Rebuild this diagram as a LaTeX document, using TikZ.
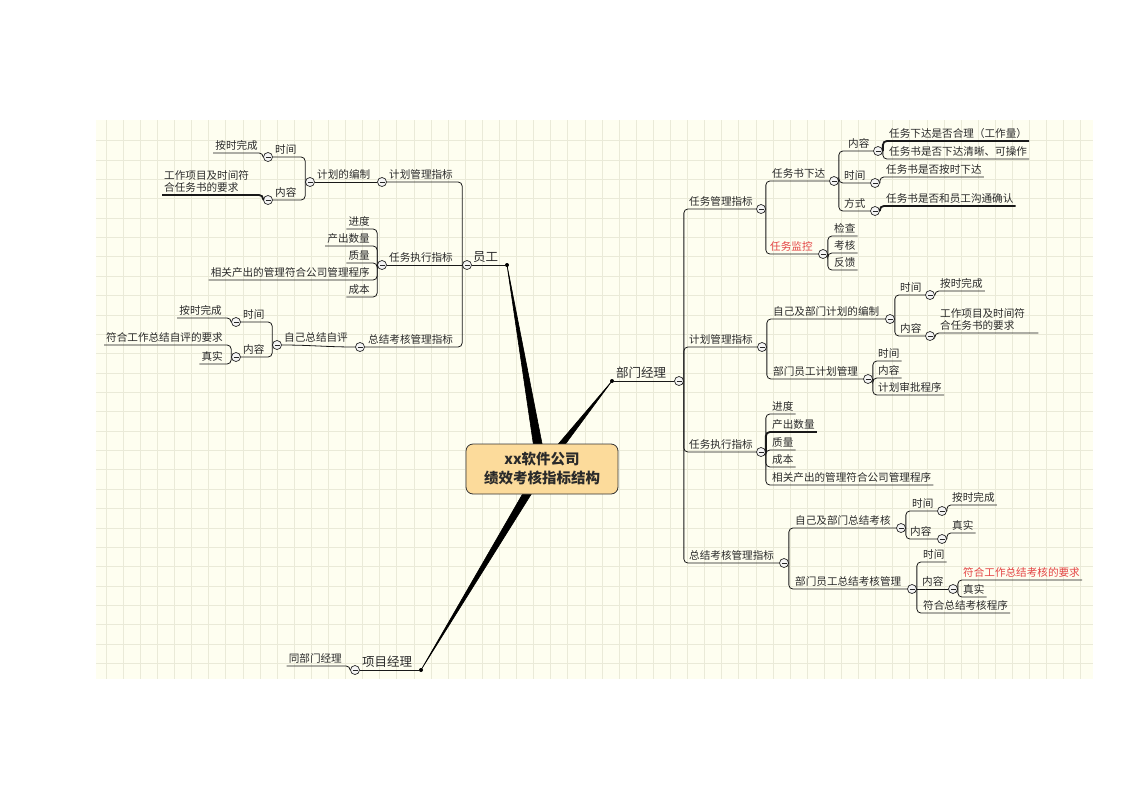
\documentclass[tikz,border=0pt]{standalone}
\usepackage{fontspec}
\setmainfont{Noto Sans CJK SC}
\usetikzlibrary{positioning}
\definecolor{PaperYellow}{HTML}{FEFEF0}
\definecolor{GridLine}{HTML}{EAEAD8}
\definecolor{HubFill}{HTML}{FCDB9B}
\definecolor{InkGray}{HTML}{2A2A2A}
\definecolor{AlertRed}{HTML}{E44444}
\tikzset{font=\fontsize{10.6pt}{12.6pt}\selectfont}
\tikzset{
  Link/.style={draw=black!90, line width=0.8pt, rounded corners=4pt},
  Heavy/.style={line width=1.8pt},
  Topic/.style={anchor=south west, inner xsep=1pt, inner ysep=2pt, text=InkGray},
  LeafR/.style={anchor=south west, inner xsep=2pt, inner ysep=2pt, text=InkGray},
  LeafL/.style={anchor=south east, inner xsep=2pt, inner ysep=2pt, text=InkGray},
  MainTopic/.style={Topic, font=\fontsize{12.5pt}{14pt}\selectfont},
  FoldMark/.style={circle, draw=black!85, line width=0.7pt, fill=black!4, minimum size=9pt, inner sep=0pt,
    path picture={\draw[line width=0.8pt] ([xshift=2pt]path picture bounding box.west) -- ([xshift=-2pt]path picture bounding box.east);}},
  Knot/.style={circle, fill=black, minimum size=4pt, inner sep=0pt},
  Trunk/.style={fill=black, draw=black, line width=0.6pt, line join=round},
  HubBox/.style={rectangle, rounded corners=7pt, draw=black!80, line width=0.8pt, fill=HubFill,
    minimum width=152pt, minimum height=50pt, align=center, text=InkGray,
    font=\fontsize{14.5pt}{19pt}\selectfont\bfseries}
}

\begin{document}
\begin{tikzpicture}[x=1pt,y=-1pt]
  \useasboundingbox (0,0) rectangle (1122,793);
  \fill[PaperYellow] (96,120) rectangle (1093,679);
  \foreach \k in {0,...,57}
  \draw[GridLine, line width=0.6pt] ({106+17.1*\k},120) -- ({106+17.1*\k},679);
  \foreach \k in {0,...,27}
  \draw[GridLine, line width=0.6pt] (96,{140.5+19.37*\k}) -- (1093,{140.5+19.37*\k});

  \coordinate (hubc) at (542,469);
  \node[Knot] (emp-dot) at (507,265) {};
  \node[Knot] (mgr-dot) at (612,381) {};
  \node[Knot] (pm-dot) at (421,670) {};
  \foreach \b in {emp,mgr,pm}
  \fill[Trunk] (\b-dot.center) -- ([xshift=-5pt]hubc) -- ([xshift=5pt]hubc) -- cycle;
  \node[HubBox] (hub) at (hubc) {xx软件公司\\绩效考核指标结构};

  % 员工
  \node[FoldMark] (emp-c) at (467,265) {};
  \node[MainTopic] (emp) at (472,265) {员工};
  \draw[Link] (emp-dot) -- (emp-c);

  \node[FoldMark] (plan-c) at (382,182) {};
  \node[Topic] (plan) at (388,182) {计划管理指标};
  \draw[Link] (emp-c.west) |- (plan-c.east);
  \node[FoldMark] (pedit-c) at (310,182) {};
  \node[Topic] (pedit) at (316,182) {计划的编制};
  \draw[Link] (plan-c.west) -- (pedit-c.east);
  \node[FoldMark] (ptime-c) at (268,157) {};
  \node[Topic] (ptime) at (274,157) {时间};
  \draw[Link] (pedit-c.west) |- (ptime-c.east);
  \node[LeafL] (ptime-a) at (260,153) {按时完成};
  \draw[Link] (ptime-c.west) |- (ptime-a.south west);
  \node[FoldMark] (pcont-c) at (268,200) {};
  \node[Topic] (pcont) at (274,200) {内容};
  \draw[Link] (pedit-c.west) |- (pcont-c.east);
  \node[LeafR, align=left, text width=90pt] (pcont-a) at (162,195) {工作项目及时间符\\合任务书的要求};
  \draw[Link, Heavy] (pcont-c.west) |- (pcont-a.south west);

  \node[FoldMark] (exec-c) at (382,265) {};
  \node[Topic] (exec) at (388,265) {任务执行指标};
  \draw[Link] (emp-c.west) -- (exec-c.east);
  \foreach \n/\y/\t in {1/229/进度,2/246/产出数量,3/263/质量,4/280/相关产出的管理符合公司管理程序,5/297/成本}{
    \node[LeafL] (exec-\n) at (372,\y) {\t};
    \draw[Link] (exec-c.west) |- (exec-\n.south west);
  }

  \node[FoldMark] (summ-c) at (360,347) {};
  \node[Topic] (summ) at (367,347) {总结考核管理指标};
  \draw[Link] (emp-c.west) |- (summ-c.east);
  \node[FoldMark] (self-c) at (277,345) {};
  \node[Topic] (self) at (283,345) {自己总结自评};
  \draw[Link] (summ-c.west) to[out=180,in=0] (self-c.east);
  \node[FoldMark] (stime-c) at (236,322) {};
  \node[Topic] (stime) at (242,322) {时间};
  \draw[Link] (self-c.west) |- (stime-c.east);
  \node[LeafL] (stime-a) at (224,318) {按时完成};
  \draw[Link] (stime-c.west) |- (stime-a.south west);
  \node[FoldMark] (scont-c) at (236,357) {};
  \node[Topic] (scont) at (242,357) {内容};
  \draw[Link] (self-c.west) |- (scont-c.east);
  \foreach \n/\y/\t in {1/345/符合工作总结自评的要求,2/364/真实}{
    \node[LeafL] (scont-\n) at (225,\y) {\t};
    \draw[Link] (scont-c.west) |- (scont-\n.south west);
  }

  % 项目经理
  \node[FoldMark] (pm-c) at (355,670) {};
  \node[MainTopic] (pm) at (361,670) {项目经理};
  \draw[Link] (pm-dot) -- (pm-c);
  \node[LeafL] (pm-a) at (344,666) {同部门经理};
  \draw[Link] (pm-c.west) |- (pm-a.south west);

  % 部门经理
  \node[FoldMark] (mgr-c) at (679,381) {};
  \node[MainTopic] (mgr) at (615,381) {部门经理};
  \draw[Link] (mgr-dot) -- (mgr-c);

  \node[FoldMark] (task-c) at (761,209) {};
  \node[Topic] (task) at (688,209) {任务管理指标};
  \draw[Link] (mgr-c.east) |- (task-c.west);
  \node[FoldMark] (issue-c) at (834,181) {};
  \node[Topic] (issue) at (771,181) {任务书下达};
  \draw[Link] (task-c.east) |- (issue-c.west);
  \node[FoldMark] (icont-c) at (878,151) {};
  \node[Topic] (icont) at (847,151) {内容};
  \draw[Link] (issue-c.east) |- (icont-c.west);
  \node[LeafR] (icont-1) at (887,141) {任务下达是否合理（工作量）};
  \draw[Link, Heavy] (icont-c.east) |- (icont-1.south east);
  \node[LeafR] (icont-2) at (887,159) {任务书是否下达清晰、可操作};
  \draw[Link] (icont-c.east) |- (icont-2.south east);
  \node[FoldMark] (itime-c) at (875,183) {};
  \node[Topic] (itime) at (843,183) {时间};
  \draw[Link] (issue-c.east) |- (itime-c.west);
  \node[LeafR] (itime-1) at (884,177) {任务书是否按时下达};
  \draw[Link] (itime-c.east) |- (itime-1.south east);
  \node[FoldMark] (iway-c) at (875,211) {};
  \node[Topic] (iway) at (843,211) {方式};
  \draw[Link] (issue-c.east) |- (iway-c.west);
  \node[LeafR] (iway-1) at (884,206) {任务书是否和员工沟通确认};
  \draw[Link, Heavy] (iway-c.east) |- (iway-1.south east);
  \node[FoldMark] (mon-c) at (823,254) {};
  \node[Topic, text=AlertRed] (mon) at (769,254) {任务监控};
  \draw[Link] (task-c.east) |- (mon-c.west);
  \foreach \n/\y/\t in {1/236/检查,2/253/考核,3/270/反馈}{
    \node[LeafR] (mon-\n) at (832,\y) {\t};
    \draw[Link] (mon-c.east) |- (mon-\n.south east);
  }

  \node[FoldMark] (plan2-c) at (762,347) {};
  \node[Topic] (plan2) at (688,347) {计划管理指标};
  \draw[Link] (mgr-c.east) |- (plan2-c.west);
  \node[FoldMark] (own-c) at (890,319) {};
  \node[Topic] (own) at (772,319) {自己及部门计划的编制};
  \draw[Link] (plan2-c.east) |- (own-c.west);
  \node[FoldMark] (otime-c) at (930,295) {};
  \node[Topic] (otime) at (899,295) {时间};
  \draw[Link] (own-c.east) |- (otime-c.west);
  \node[LeafR] (otime-1) at (938,291) {按时完成};
  \draw[Link] (otime-c.east) |- (otime-1.south east);
  \node[FoldMark] (ocont-c) at (930,336) {};
  \node[Topic] (ocont) at (899,336) {内容};
  \draw[Link] (own-c.east) |- (ocont-c.west);
  \node[LeafR, align=left, text width=96pt] (ocont-1) at (938,333) {工作项目及时间符\\合任务书的要求};
  \draw[Link] (ocont-c.east) |- (ocont-1.south east);
  \node[FoldMark] (staff-c) at (868,379) {};
  \node[Topic] (staff) at (772,379) {部门员工计划管理};
  \draw[Link] (plan2-c.east) |- (staff-c.west);
  \foreach \n/\y/\t in {1/361/时间,2/378/内容,3/395/计划审批程序}{
    \node[LeafR] (staff-\n) at (876,\y) {\t};
    \draw[Link] (staff-c.east) |- (staff-\n.south east);
  }

  \node[FoldMark] (exec2-c) at (761,452) {};
  \node[Topic] (exec2) at (688,452) {任务执行指标};
  \draw[Link] (mgr-c.east) |- (exec2-c.west);
  \foreach \n/\y/\t in {1/414/进度,3/450/质量,4/467/成本,5/485/相关产出的管理符合公司管理程序}{
    \node[LeafR] (exec2-\n) at (770,\y) {\t};
    \draw[Link] (exec2-c.east) |- (exec2-\n.south east);
  }
  \node[LeafR] (exec2-2) at (770,432) {产出数量};
  \draw[Link, Heavy] (exec2-c.east) |- (exec2-2.south east);

  \node[FoldMark] (summ2-c) at (784,563) {};
  \node[Topic] (summ2) at (688,563) {总结考核管理指标};
  \draw[Link] (mgr-c.east) |- (summ2-c.west);
  \node[FoldMark] (osum-c) at (901,528) {};
  \node[Topic] (osum) at (794,528) {自己及部门总结考核};
  \draw[Link] (summ2-c.east) |- (osum-c.west);
  \node[FoldMark] (ostime-c) at (942,511) {};
  \node[Topic] (ostime) at (911,511) {时间};
  \draw[Link] (osum-c.east) |- (ostime-c.west);
  \node[LeafR] (ostime-1) at (950,505) {按时完成};
  \draw[Link] (ostime-c.east) |- (ostime-1.south east);
  \node[FoldMark] (oscont-c) at (942,539) {};
  \node[Topic] (oscont) at (909,539) {内容};
  \draw[Link] (osum-c.east) |- (oscont-c.west);
  \node[LeafR] (oscont-1) at (950,533) {真实};
  \draw[Link] (oscont-c.east) |- (oscont-1.south east);
  \node[FoldMark] (ssum-c) at (912,589) {};
  \node[Topic] (ssum) at (794,589) {部门员工总结考核管理};
  \draw[Link] (summ2-c.east) |- (ssum-c.west);
  \foreach \n/\y/\t in {1/562/时间,3/613/符合总结考核程序}{
    \node[LeafR] (ssum-\n) at (921,\y) {\t};
    \draw[Link] (ssum-c.east) |- (ssum-\n.south east);
  }
  \node[FoldMark] (sscont-c) at (953,589) {};
  \node[Topic] (sscont) at (921,589) {内容};
  \draw[Link] (ssum-c.east) -- (sscont-c.west);
  \node[LeafR, text=AlertRed] (sscont-1) at (961,580) {符合工作总结考核的要求};
  \draw[Link] (sscont-c.east) |- (sscont-1.south east);
  \node[LeafR] (sscont-2) at (961,597) {真实};
  \draw[Link] (sscont-c.east) |- (sscont-2.south east);
\end{tikzpicture}
\end{document}
